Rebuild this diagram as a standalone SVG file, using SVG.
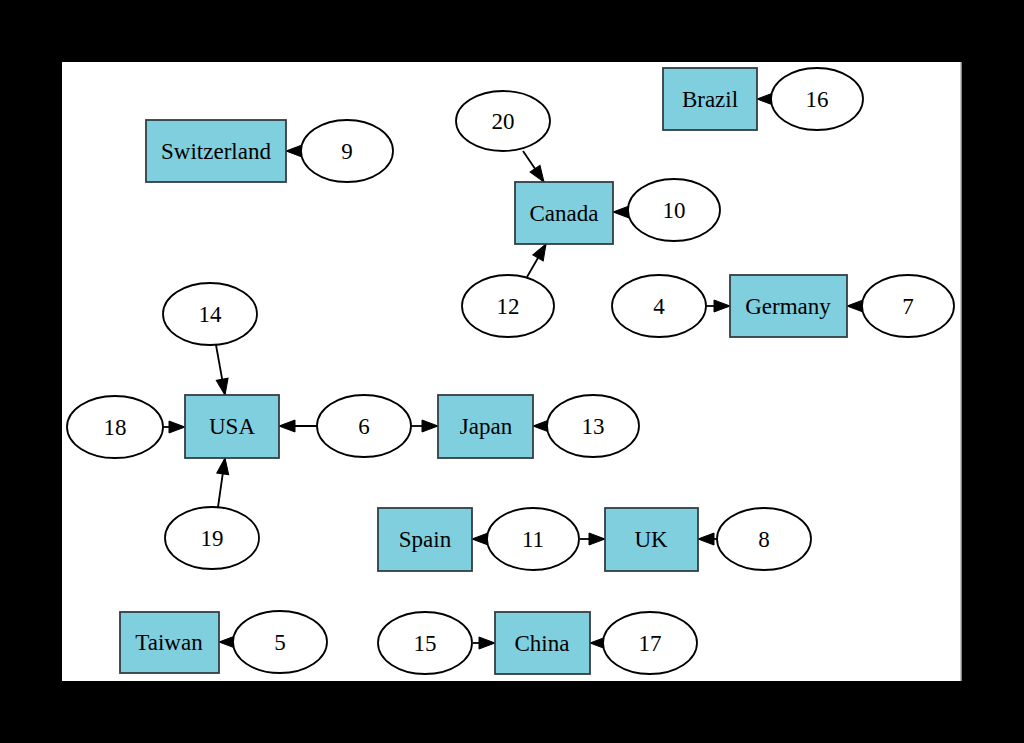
<svg xmlns="http://www.w3.org/2000/svg" width="1024" height="743" viewBox="0 0 1024 743">
  <style>
    .box { fill: #7fcfdf; stroke: #333d42; stroke-width: 1.8; }
    .ell { fill: #ffffff; stroke: #000000; stroke-width: 1.8; }
    .lbl { font-family: "Liberation Serif", "Times New Roman", serif; font-size: 23px; fill: #000000; text-anchor: middle; }
    .edge { fill: none; stroke: #000000; stroke-width: 1.8; marker-end: url(#arrow); }
  </style>
  <defs>
    <marker id="arrow" markerUnits="userSpaceOnUse" markerWidth="17" markerHeight="13" refX="16" refY="6.5" orient="auto" overflow="visible">
      <path d="M0,0.5 L16,6.5 L0,12.5 Z" fill="#000000" stroke="#000000" stroke-width="1"/>
    </marker>
  </defs>

  <!-- frame -->
  <rect x="0" y="0" width="1024" height="743" fill="#000000"/>
  <rect x="62" y="62" width="899" height="619" fill="#ffffff"/>
  <line x1="961" y1="62" x2="961" y2="681" stroke="#b0b0b0" stroke-width="1.5"/>

  <!-- connectors -->
  <g id="edges">
    <path class="edge" d="M301,151 L286,151"/>
    <path class="edge" d="M771,99 L757,99"/>
    <path class="edge" d="M523,151 L544,182"/>
    <path class="edge" d="M628,212 L613,212"/>
    <path class="edge" d="M527,277 L546,244"/>
    <path class="edge" d="M706,306 L730,306"/>
    <path class="edge" d="M862,306 L847,306"/>
    <path class="edge" d="M216,345 L225,395"/>
    <path class="edge" d="M163,427 L185,427"/>
    <path class="edge" d="M218,507 L225,458"/>
    <path class="edge" d="M317,426 L279,426"/>
    <path class="edge" d="M411,426 L438,426"/>
    <path class="edge" d="M547,426 L533,426"/>
    <path class="edge" d="M487,539 L472,539"/>
    <path class="edge" d="M580,539 L605,539"/>
    <path class="edge" d="M717,539 L698,539"/>
    <path class="edge" d="M473,643 L495,643"/>
    <path class="edge" d="M603,643 L590,643"/>
    <path class="edge" d="M233,642 L219,642"/>
  </g>

  <!-- country boxes -->
  <g id="switzerland"><rect class="box" x="146" y="120" width="140" height="62"/><text class="lbl" x="216" y="159">Switzerland</text></g>
  <g id="brazil"><rect class="box" x="663" y="68" width="94" height="62"/><text class="lbl" x="710" y="107">Brazil</text></g>
  <g id="canada"><rect class="box" x="515" y="182" width="98" height="62"/><text class="lbl" x="564" y="221">Canada</text></g>
  <g id="germany"><rect class="box" x="730" y="275" width="117" height="62"/><text class="lbl" x="788" y="314">Germany</text></g>
  <g id="usa"><rect class="box" x="185" y="395" width="94" height="63"/><text class="lbl" x="232" y="434">USA</text></g>
  <g id="japan"><rect class="box" x="438" y="395" width="95" height="63"/><text class="lbl" x="486" y="434">Japan</text></g>
  <g id="spain"><rect class="box" x="378" y="508" width="94" height="63"/><text class="lbl" x="425" y="547">Spain</text></g>
  <g id="uk"><rect class="box" x="605" y="508" width="93" height="63"/><text class="lbl" x="651" y="547">UK</text></g>
  <g id="china"><rect class="box" x="495" y="612" width="95" height="62"/><text class="lbl" x="542" y="651">China</text></g>
  <g id="taiwan"><rect class="box" x="120" y="612" width="99" height="61"/><text class="lbl" x="169" y="650">Taiwan</text></g>

  <!-- numbered nodes -->
  <g id="n9"><ellipse class="ell" cx="347" cy="151" rx="46" ry="31"/><text class="lbl" x="347" y="159">9</text></g>
  <g id="n16"><ellipse class="ell" cx="817" cy="99" rx="46" ry="31"/><text class="lbl" x="817" y="107">16</text></g>
  <g id="n20"><ellipse class="ell" cx="503" cy="121" rx="47" ry="30"/><text class="lbl" x="503" y="129">20</text></g>
  <g id="n10"><ellipse class="ell" cx="674" cy="210" rx="46" ry="31"/><text class="lbl" x="674" y="218">10</text></g>
  <g id="n12"><ellipse class="ell" cx="508" cy="306" rx="46" ry="31"/><text class="lbl" x="508" y="314">12</text></g>
  <g id="n4"><ellipse class="ell" cx="659" cy="306" rx="47" ry="31"/><text class="lbl" x="659" y="314">4</text></g>
  <g id="n7"><ellipse class="ell" cx="908" cy="306" rx="46" ry="31"/><text class="lbl" x="908" y="314">7</text></g>
  <g id="n14"><ellipse class="ell" cx="210" cy="314" rx="47" ry="31"/><text class="lbl" x="210" y="322">14</text></g>
  <g id="n18"><ellipse class="ell" cx="115" cy="427" rx="48" ry="31"/><text class="lbl" x="115" y="435">18</text></g>
  <g id="n19"><ellipse class="ell" cx="212" cy="538" rx="47" ry="31"/><text class="lbl" x="212" y="546">19</text></g>
  <g id="n6"><ellipse class="ell" cx="364" cy="426" rx="47" ry="31"/><text class="lbl" x="364" y="434">6</text></g>
  <g id="n13"><ellipse class="ell" cx="593" cy="426" rx="46" ry="31"/><text class="lbl" x="593" y="434">13</text></g>
  <g id="n11"><ellipse class="ell" cx="533" cy="539" rx="46" ry="31"/><text class="lbl" x="533" y="547">11</text></g>
  <g id="n8"><ellipse class="ell" cx="764" cy="539" rx="47" ry="31"/><text class="lbl" x="764" y="547">8</text></g>
  <g id="n15"><ellipse class="ell" cx="425" cy="643" rx="47" ry="31"/><text class="lbl" x="425" y="651">15</text></g>
  <g id="n17"><ellipse class="ell" cx="650" cy="643" rx="47" ry="31"/><text class="lbl" x="650" y="651">17</text></g>
  <g id="n5"><ellipse class="ell" cx="280" cy="642" rx="47" ry="31"/><text class="lbl" x="280" y="650">5</text></g>
</svg>
